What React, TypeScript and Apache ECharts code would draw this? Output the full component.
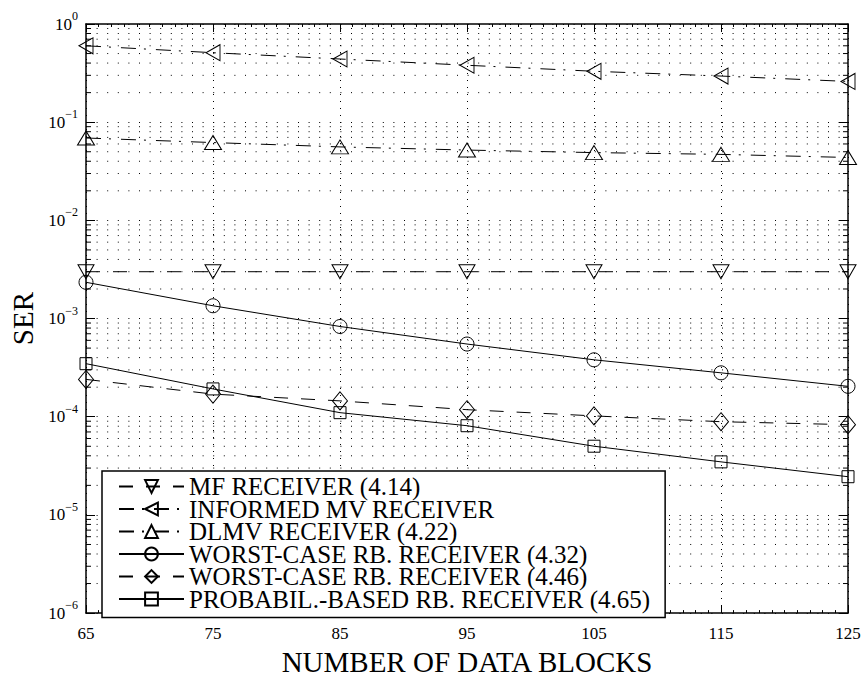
import React, { useEffect, useRef } from "react";
import * as echarts from "echarts";

const blocks = [65, 75, 85, 95, 105, 115, 125];
const mfReceiver = [0.003, 0.003, 0.003, 0.003, 0.003, 0.003, 0.003];
const informedMv = [0.6, 0.51, 0.44, 0.38, 0.33, 0.295, 0.26];
const dlmv = [0.069, 0.062, 0.056, 0.052, 0.049, 0.047, 0.0437];
const worstCase432 = [0.00234, 0.00135, 0.00083, 0.00055, 0.00038, 0.00028, 0.000204];
const worstCase446 = [0.00024, 0.00017, 0.000145, 0.000118, 0.000102, 0.000089, 0.000083];
const probabilBased = [0.000347, 0.000192, 0.00011, 0.000081, 0.0000501, 0.0000347, 0.0000245];

const seriesNames = [
  "MF RECEIVER (4.14)",
  "INFORMED MV RECEIVER",
  "DLMV RECEIVER (4.22)",
  "WORST-CASE RB. RECEIVER (4.32)",
  "WORST-CASE RB. RECEIVER (4.46)",
  "PROBABIL.-BASED RB. RECEIVER (4.65)",
];

const xTitle = "NUMBER OF DATA BLOCKS";
const yTitle = "SER";

const FONT = "'Liberation Serif', 'Times New Roman', Times, serif";

const minorValues: number[] = [];
for (let e = -6; e < 0; e++) {
  for (let m = 2; m <= 9; m++) minorValues.push(m * Math.pow(10, e));
}

const pairs = (vals: number[]) => blocks.map((x, i) => [x, vals[i]]);

export default function App() {
  const ref = useRef<HTMLDivElement>(null);
  useEffect(() => {
    if (!ref.current) return;
    const chart = echarts.init(ref.current, undefined, { renderer: "svg" });
    const dashed = [14, 13];
    const dashDot = [15, 8, 2, 10];
    const baseItem = { color: "rgba(0,0,0,0)", borderColor: "#000", borderWidth: 1 };
    const mk = (name: string, vals: number[], symbol: string, size: any, rot: number, dash: any) => ({
      name,
      type: "line",
      data: pairs(vals),
      symbol,
      symbolSize: size,
      symbolRotate: rot,
      showSymbol: true,
      clip: false,
      z: 3,
      lineStyle: { color: "#000", width: 1, type: dash },
      itemStyle: baseItem,
      emphasis: { disabled: true },
    });
    const axisLine = { show: true, lineStyle: { color: "#000", width: 1.5 } };
    const option: any = {
      animation: false,
      backgroundColor: "#fff",
      textStyle: { fontFamily: FONT },
      grid: { left: 86, top: 24, width: 762, height: 600, containLabel: false },
      legend: {
        orient: "vertical",
        left: 102,
        top: 471,
        padding: [3, 15, 6, 16],
        itemGap: -2.5,
        itemWidth: 65,
        itemHeight: 16,
        backgroundColor: "#fff",
        borderColor: "#000",
        borderWidth: 1.5,
        borderRadius: 0,
        selectedMode: false,
        textStyle: { fontFamily: FONT, fontSize: 25, color: "#000" },
        data: seriesNames,
      },
      xAxis: [
        {
          type: "value",
          min: 65,
          max: 125,
          interval: 10,
          position: "bottom",
          axisLine,
          axisTick: { show: true, inside: true, length: 8, lineStyle: { color: "#000", width: 1 } },
          minorTick: { show: true, splitNumber: 10, length: 3, lineStyle: { color: "#000", width: 1 } },
          axisLabel: { margin: 12, fontSize: 17, fontFamily: FONT, color: "#000" },
          splitLine: { show: true, lineStyle: { color: "#000", width: 1, type: [1, 6] } },
          name: xTitle,
          nameLocation: "middle",
          nameGap: 23,
          nameTextStyle: { fontFamily: FONT, fontSize: 29, color: "#000" },
        },
        {
          type: "value",
          min: 65,
          max: 125,
          interval: 10,
          position: "top",
          axisLine,
          axisTick: { show: true, inside: true, length: 8, lineStyle: { color: "#000", width: 1 } },
          minorTick: { show: true, splitNumber: 10, length: 3, lineStyle: { color: "#000", width: 1 } },
          axisLabel: { show: false },
          splitLine: { show: false },
        },
      ],
      yAxis: [
        {
          type: "log",
          logBase: 10,
          min: 1e-6,
          max: 1,
          position: "left",
          axisLine,
          axisTick: { show: true, inside: true, length: 9, lineStyle: { color: "#000", width: 1 } },
          axisLabel: {
            margin: 8,
            formatter: (v: number) => {
              const e = Math.round(Math.log10(v));
              const s = e < 0 ? "\u2212" + Math.abs(e) : String(e);
              return "{b|10}{s|" + s + "}";
            },
            rich: {
              b: { fontFamily: FONT, fontSize: 17, color: "#000", lineHeight: 28 },
              s: { fontFamily: FONT, fontSize: 12, color: "#000", lineHeight: 12, verticalAlign: "top" },
            },
          },
          splitLine: { show: true, lineStyle: { color: "#000", width: 1, type: [1, 9.6] } },
          name: yTitle,
          nameLocation: "middle",
          nameRotate: 90,
          nameGap: 48,
          nameTextStyle: { fontFamily: FONT, fontSize: 29, color: "#000" },
        },
        {
          type: "log",
          logBase: 10,
          min: 1e-6,
          max: 1,
          position: "right",
          axisLine,
          axisTick: { show: true, inside: true, length: 9, lineStyle: { color: "#000", width: 1 } },
          axisLabel: { show: false },
          splitLine: { show: false },
        },
      ],
      series: [
        {
          type: "custom",
          silent: true,
          z: 1,
          clip: false,
          xAxisIndex: 0,
          yAxisIndex: 0,
          data: minorValues.map((v) => [65, v]),
          renderItem: (_p: any, api: any) => {
            const v = api.value(1);
            const l = api.coord([65, v]);
            const r = api.coord([125, v]);
            return {
              type: "group",
              children: [
                {
                  type: "line",
                  shape: { x1: l[0], y1: l[1], x2: r[0], y2: r[1] },
                  style: { stroke: "#000", lineWidth: 1, lineDash: [1, 9.6] },
                },
                {
                  type: "line",
                  shape: { x1: l[0], y1: l[1], x2: l[0] + 5, y2: l[1] },
                  style: { stroke: "#000", lineWidth: 1 },
                },
                {
                  type: "line",
                  shape: { x1: r[0] - 5, y1: r[1], x2: r[0], y2: r[1] },
                  style: { stroke: "#000", lineWidth: 1 },
                },
              ],
            };
          },
        },
        mk(seriesNames[0], mfReceiver, "triangle", [16, 14], 180, dashed),
        mk(seriesNames[1], informedMv, "triangle", [16, 14], 90, dashDot),
        mk(seriesNames[2], dlmv, "triangle", [17, 14], 0, dashDot),
        mk(seriesNames[3], worstCase432, "circle", 14, 0, "solid"),
        mk(seriesNames[4], worstCase446, "diamond", [15, 18], 0, dashed),
        mk(seriesNames[5], probabilBased, "rect", 12, 0, "solid"),
      ],
    };
    chart.setOption(option);
    return () => chart.dispose();
  }, []);
  return (
    <div
      ref={ref}
      style={{ position: "fixed", left: 0, top: 0, width: 865, height: 681, background: "#fff" }}
    />
  );
}
